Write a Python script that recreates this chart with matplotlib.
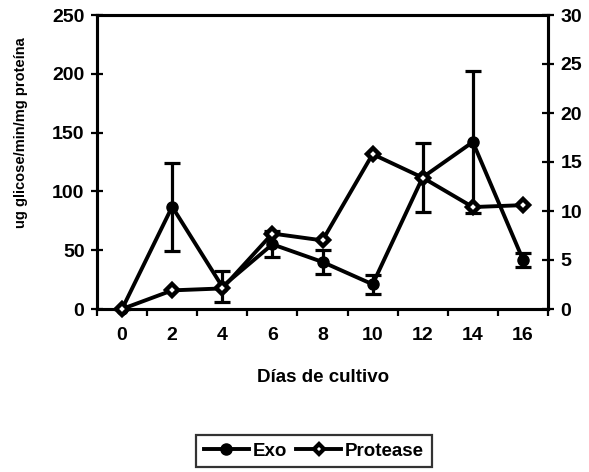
import matplotlib
matplotlib.use("Agg")
import matplotlib.pyplot as plt
from matplotlib.lines import Line2D

days = [0, 2, 4, 6, 8, 10, 12, 14, 16]
exo = [0, 87, 19, 55, 40, 21, 112, 142, 42]
exo_err = [0, 37.5, 13, 11, 10, 8, 29.5, 60.5, 6]
protease = [0, 1.9, 2.1, 7.7, 7.0, 15.8, 13.4, 10.4, 10.6]
left_ticks = [0, 50, 100, 150, 200, 250]
right_ticks = [0, 5, 10, 15, 20, 25, 30]

plt.rcParams['font.family'] = ['Liberation Sans', 'DejaVu Sans']
plt.rcParams['font.weight'] = 'bold'

fig = plt.figure(figsize=(5.89, 4.72), dpi=100)
ax = fig.add_axes([97/589, 1-309/472, (548-97)/589, (309-15)/472])
ax2 = ax.twinx()

lw = 2.8
ax.errorbar(days, exo, yerr=exo_err, color='black', lw=lw, marker='o', ms=8,
            mfc='black', mec='black', ecolor='black', elinewidth=2.3, capsize=5.5,
            capthick=2.3, zorder=3, clip_on=False)
ax2.plot(days, protease, color='black', lw=lw, marker='D', ms=6, mfc='white',
         mec='black', mew=3.2, zorder=3, clip_on=False)

ax.set_xlim(-1, 17)
ax.set_ylim(0, 250)
ax2.set_ylim(0, 30)
ax.set_yticks(left_ticks)
ax2.set_yticks(right_ticks)
ax.set_xticks(days)
ax.set_xticks([-1, 1, 3, 5, 7, 9, 11, 13, 15, 17], minor=True)

fs = 14
ax.tick_params(axis='x', which='major', length=0, pad=13, labelsize=fs)
ax.tick_params(axis='x', which='minor', length=5, width=1.6, direction='out')
ax.tick_params(axis='y', length=8, width=1.6, direction='inout', pad=5, labelsize=fs)
ax2.tick_params(axis='y', length=8, width=1.6, direction='inout', pad=5, labelsize=fs)
for a in (ax, ax2):
    for s in a.spines.values():
        s.set_linewidth(2.2)
    for lab in a.get_yticklabels() + a.get_xticklabels():
        lab.set_fontweight('bold')

fig.text(323/589, 1-378/472, 'Días de cultivo', ha='center', va='center',
         fontsize=13.5, fontweight='bold')
fig.text(21/589, 1-133/472, 'ug glicose/min/mg proteína', ha='center', va='center',
         rotation=90, fontsize=10.5, fontweight='bold')

handles = [Line2D([], [], color='black', lw=lw, marker='o', ms=8, mfc='black'),
           Line2D([], [], color='black', lw=lw, marker='D', ms=5.5, mfc='white', mew=3)]
leg = fig.legend(handles, ['Exo', 'Protease'], ncol=2, loc='center',
                 bbox_to_anchor=(314/589, 1-451/472), frameon=True, fancybox=False,
                 edgecolor='black', fontsize=13.5, handlelength=2.4, handletextpad=0.2,
                 columnspacing=0.5, borderpad=0.4)
leg.get_frame().set_linewidth(1.6)
for t in leg.get_texts():
    t.set_fontweight('bold')

fig.savefig('out.png', dpi=100)
